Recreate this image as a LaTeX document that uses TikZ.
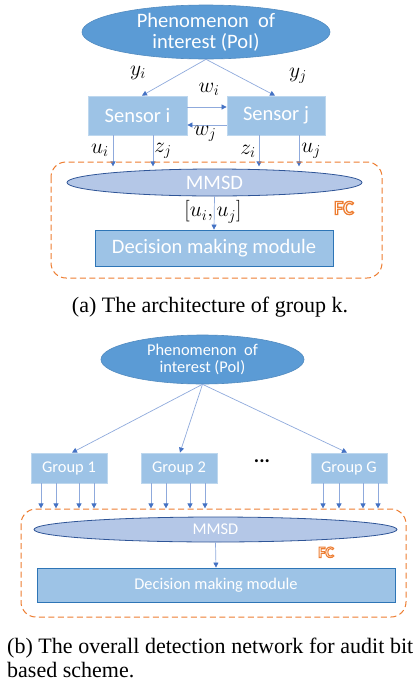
\documentclass[tikz,border=0pt]{standalone}
\usepackage{fix-cm}
\usepackage{fontspec}
\setmainfont{Liberation Serif}
\newfontfamily\calib{Carlito}
\usetikzlibrary{arrows.meta,shapes.geometric}
\definecolor{poic}{HTML}{5B9BD5}
\definecolor{boxc}{HTML}{9DC3E6}
\definecolor{boxline}{HTML}{BDD7EE}
\definecolor{mmsdc}{HTML}{B4C7E7}
\definecolor{mmsdline}{HTML}{2F5597}
\definecolor{decline}{HTML}{2E75B6}
\definecolor{linec}{HTML}{8FAADC}
\definecolor{tipc}{HTML}{4472C4}
\definecolor{fcc}{HTML}{ED7D31}
\newcommand{\outlinetext}[2]{\special{pdf:literal direct #1 w 1 Tr}#2\special{pdf:literal direct 0 Tr}}
\tikzset{
  poi/.style={ellipse, fill=poic, draw=poic!90!black, line width=0.6pt, inner sep=0pt, text=white, align=center},
  sbox/.style={rectangle, fill=boxc, draw=boxline, line width=0.8pt, inner sep=0pt, text=white},
  mmsd/.style={ellipse, fill=mmsdc, draw=mmsdline, line width=0.8pt, inner sep=0pt, text=white},
  dec/.style={rectangle, fill=boxc, draw=decline, line width=0.9pt, inner sep=0pt, text=white},
  arr/.style={draw=linec, line width=0.7pt, -{Triangle[length=5pt,width=5pt,color=tipc]}},
  fcbox/.style={draw=fcc, dashed, dash pattern=on 6pt off 3.5pt, line width=1pt, rounded corners=15pt},
  lab/.style={inner sep=0pt, font=\fontsize{21.5}{23}\selectfont},
  fa/.style={font=\calib\fontsize{20.5}{22}\selectfont},
  fb/.style={font=\calib\fontsize{16.4}{18}\selectfont},
  fclab/.style={inner sep=0pt, anchor=base west, text=fcc},
}
\begin{document}
\begin{tikzpicture}[x=1pt,y=-1pt]
\useasboundingbox (0,0) rectangle (416,686);
% ---------- (a) ----------
\node[poi, fa, minimum width=248pt, minimum height=54pt] (poiA) at (206,32) {Phenomenon\ \ of\\[-1pt]interest (PoI)};
\node[sbox, fa, minimum width=99pt, minimum height=39pt] (si) at (137.5,115.5) {Sensor i};
\node[sbox, fa, minimum width=98pt, minimum height=39pt] (sj) at (276,115.5) {Sensor j};
\draw[arr] (poiA.south) -- ([xshift=4.5pt]si.north);
\draw[arr] (poiA.south) -- ([xshift=-1pt]sj.north);
\node[lab] (yi) at (138,73) {$y_i$};
\node[lab] (yj) at (298,76) {$y_j$};
\draw[arr] ([yshift=8.5pt]si.east) -- ([yshift=8.5pt]sj.west);
\draw[arr] ([yshift=-9.5pt]sj.west) -- ([yshift=-9.5pt]si.east);
\node[lab] (wi) at (209,89) {$w_i$};
\node[lab] (wj) at (205,134) {$w_j$};
\draw[arr] ([xshift=-24.5pt]si.south) -- ++(0,31);
\draw[arr] ([xshift=15.5pt]si.south) -- ++(0,31);
\draw[arr] ([xshift=-17pt]sj.south) -- ++(0,31);
\draw[arr] ([xshift=23pt]sj.south) -- ++(0,31);
\node[lab] (ui) at (100,150) {$u_i$};
\node[lab] (zj) at (163,151) {$z_j$};
\node[lab] (zi) at (248,151) {$z_i$};
\node[lab] (uj) at (311,151) {$u_j$};
\draw[fcbox] (51,162) rectangle (382,278);
\node[mmsd, fa, minimum width=295pt, minimum height=27pt] (mA) at (214.5,182.5) {MMSD};
\node[dec, fa, minimum width=238pt, minimum height=36pt] (dA) at (214,248) {Decision making module};
\draw[arr] (mA.south) -- (dA.north);
\node[lab] (uu) at (213,212) {$[u_i,u_j]$};
\node[fclab, font=\calib\bfseries\fontsize{20}{22}\selectfont] (fcA) at (334,214.5) {\outlinetext{1.3}{FC}};
\node[inner sep=0pt, anchor=base, font=\fontsize{22}{24}\selectfont] (capA) at (210,312) {(a) The architecture of group k.};
% ---------- (b) ----------
\node[poi, fb, minimum width=203pt, minimum height=49pt] (poiB) at (202.5,359.5) {Phenomenon\ \ of\\[-1pt]interest (PoI)};
\node[sbox, fb, minimum width=76pt, minimum height=30pt] (g1) at (69,468) {Group 1};
\node[sbox, fb, minimum width=76pt, minimum height=30pt] (g2) at (179,468) {Group 2};
\node[sbox, fb, minimum width=76pt, minimum height=30pt] (gG) at (349,468) {Group G};
\node[inner sep=0pt, font=\calib\bfseries\fontsize{20}{22}\selectfont] (dots) at (262,461) {...};
\draw[arr] (poiB.south) -- ([xshift=3pt]g1.north);
\draw[arr] (poiB.south) -- ([xshift=1pt]g2.north);
\draw[arr] (poiB.south) -- ([xshift=-2pt]gG.north);
\foreach \d in {-28,-13,10,25} \draw[arr] ([xshift=\d pt]g1.south) -- ++(0,25);
\foreach \d in {-28,-13,11,26} \draw[arr] ([xshift=\d pt]g2.south) -- ++(0,25);
\foreach \d in {-26,-10,14,29} \draw[arr] ([xshift=\d pt]gG.south) -- ++(0,25);
\draw[fcbox] (21,509) rectangle (406,617);
\node[mmsd, fb, minimum width=363pt, minimum height=25pt] (mB) at (215.5,529.5) {MMSD};
\node[dec, fb, minimum width=358pt, minimum height=34pt] (dB) at (216,585) {Decision making module};
\draw[arr] (mB.south) -- (dB.north);
\node[fclab, font=\calib\bfseries\fontsize{16}{18}\selectfont] (fcB) at (318,557.5) {\outlinetext{1.1}{FC}};
\node[inner sep=0pt, anchor=base west, font=\fontsize{22}{24}\selectfont] (capB1) at (7,653) {\makebox[406pt][s]{(b) The overall detection network for audit bit}};
\node[inner sep=0pt, anchor=base west, font=\fontsize{22}{24}\selectfont] (capB2) at (7,677) {based scheme.};
\end{tikzpicture}
\end{document}
